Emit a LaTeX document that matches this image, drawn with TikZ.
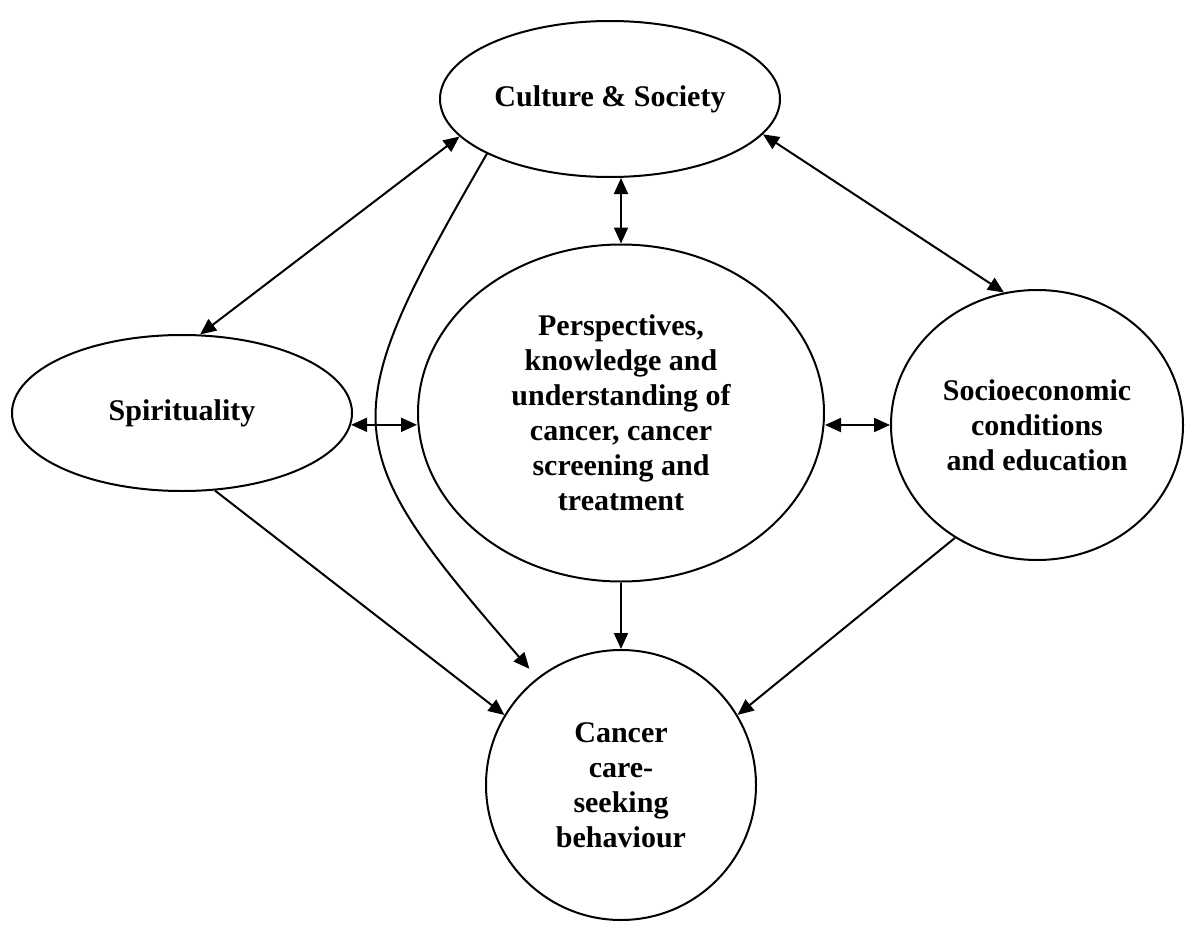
\documentclass[tikz,border=0pt]{standalone}
\usepackage{fontspec}
\setmainfont{Liberation Serif}
\usetikzlibrary{shapes.geometric}
\usetikzlibrary{arrows.meta}

\begin{document}
\begin{tikzpicture}[x=0.5pt,y=-0.5pt,
  bubble/.style={draw,ellipse,line width=1pt,inner sep=0pt,align=center,
    font=\fontsize{15}{17.5}\selectfont\bfseries},
  link/.style={line width=1pt,-{Triangle[length=8pt,width=7pt]}},
  dlink/.style={line width=1pt,{Triangle[length=8pt,width=7pt]}-{Triangle[length=8pt,width=7pt]}}]
  \useasboundingbox (0,0) rectangle (1200,937);

  % the five factors
  \node[bubble,minimum width=170pt,minimum height=78pt] (cult) at (610,99) {Culture \& Society};
  \node[bubble,minimum width=170pt,minimum height=78pt] (spir) at (182,413) {Spirituality};
  \node[bubble,minimum width=203pt,minimum height=168.5pt] (persp) at (621,413)
    {Perspectives,\\ knowledge and\\ understanding of\\ cancer, cancer\\ screening and\\ treatment};
  \node[bubble,minimum width=146pt,minimum height=135pt] (socio) at (1037,425)
    {Socioeconomic\\ conditions\\ and education};
  \node[bubble,circle,minimum size=135pt] (canc) at (621,785)
    {Cancer\\ care-\\ seeking\\ behaviour};

  % two-way links
  \draw[dlink] (cult.194) -- (spir.77);
  \draw[dlink] (cult.347) -- (socio.104);
  \draw[dlink] (persp.north |- cult.south) -- (persp.north);
  \draw[dlink] (spir.356) -- (spir.356 -| persp.west);
  \draw[dlink] (socio.west -| persp.east) -- (socio.west);

  % links into care-seeking
  \draw[link] (spir.293) -- (canc.149);
  \draw[link,shorten >=6pt] (cult.204) to[out=240,in=131,looseness=1.5] (canc.128);
  \draw[link] (persp.south) -- (canc.north);
  \draw[link] (socio.234) -- (canc.31);

\end{tikzpicture}
\end{document}
